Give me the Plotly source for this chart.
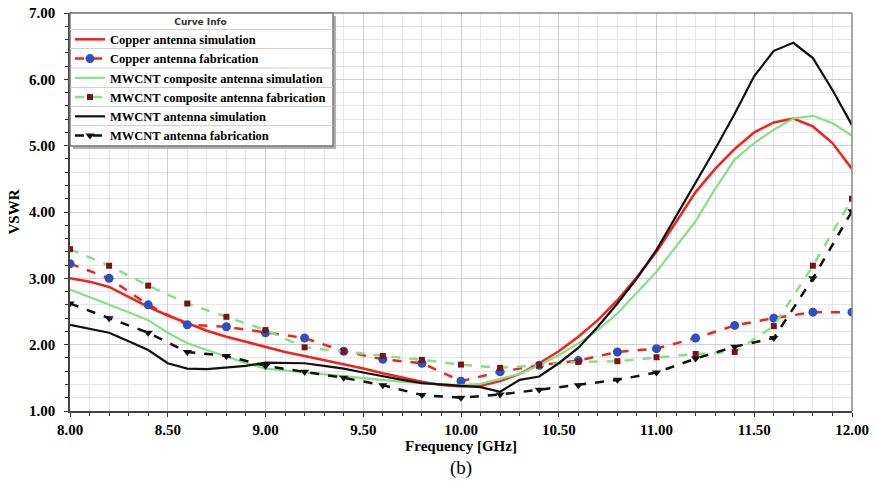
import plotly.graph_objects as go

freq_sim = [8.0, 8.1, 8.2, 8.3, 8.4, 8.5, 8.6, 8.7, 8.8, 8.9, 9.0, 9.1, 9.2, 9.3, 9.4, 9.5, 9.6, 9.7, 9.8, 9.9,
            10.0, 10.1, 10.2, 10.3, 10.4, 10.5, 10.6, 10.7, 10.8, 10.9, 11.0, 11.1, 11.2, 11.3, 11.4, 11.5,
            11.6, 11.7, 11.8, 11.9, 12.0]
freq_fab = [8.0, 8.2, 8.4, 8.6, 8.8, 9.0, 9.2, 9.4, 9.6, 9.8, 10.0, 10.2, 10.4, 10.6, 10.8, 11.0, 11.2,
            11.4, 11.6, 11.8, 12.0]

copper_sim = [3.00, 2.95, 2.87, 2.72, 2.57, 2.44, 2.32, 2.21, 2.12, 2.04, 1.97, 1.89, 1.83, 1.77, 1.71, 1.64,
              1.57, 1.50, 1.44, 1.39, 1.37, 1.38, 1.45, 1.56, 1.72, 1.90, 2.12, 2.37, 2.67, 3.02, 3.40, 3.85,
              4.30, 4.65, 4.95, 5.20, 5.35, 5.41, 5.29, 5.04, 4.65]
copper_fab = [3.22, 3.00, 2.60, 2.30, 2.27, 2.18, 2.10, 1.90, 1.78, 1.72, 1.45, 1.59, 1.69, 1.76, 1.89, 1.94,
              2.10, 2.29, 2.40, 2.49, 2.49]
composite_sim = [2.83, 2.72, 2.61, 2.49, 2.37, 2.18, 2.02, 1.92, 1.82, 1.72, 1.64, 1.61, 1.58, 1.55, 1.52,
                 1.50, 1.47, 1.44, 1.42, 1.40, 1.39, 1.41, 1.48, 1.56, 1.69, 1.84, 2.02, 2.22, 2.47, 2.78,
                 3.10, 3.48, 3.86, 4.35, 4.79, 5.04, 5.24, 5.41, 5.45, 5.34, 5.15]
composite_fab = [3.44, 3.19, 2.89, 2.62, 2.42, 2.22, 1.96, 1.90, 1.83, 1.77, 1.70, 1.65, 1.69, 1.74, 1.75,
                 1.81, 1.86, 1.89, 2.28, 3.19, 4.20]
mwcnt_sim = [2.30, 2.24, 2.18, 2.05, 1.92, 1.72, 1.64, 1.63, 1.66, 1.68, 1.73, 1.73, 1.72, 1.68, 1.64, 1.58,
             1.52, 1.47, 1.42, 1.40, 1.37, 1.36, 1.29, 1.47, 1.52, 1.72, 1.95, 2.27, 2.62, 3.00, 3.43, 3.93,
             4.45, 4.95, 5.48, 6.05, 6.43, 6.55, 6.32, 5.84, 5.31]
mwcnt_fab = [2.62, 2.40, 2.18, 1.89, 1.83, 1.68, 1.59, 1.50, 1.39, 1.24, 1.20, 1.25, 1.32, 1.39, 1.47, 1.58,
             1.79, 1.97, 2.10, 3.00, 4.01]

x_ticks = [8.0, 8.5, 9.0, 9.5, 10.0, 10.5, 11.0, 11.5, 12.0]
y_ticks = [1, 2, 3, 4, 5, 6, 7]

RED = "#f2221c"
BLUE = "#2d4fc4"
GREEN = "#86e086"
DRED = "#7d1212"
BLACK = "#111111"

fig = go.Figure()
fig.add_trace(go.Scatter(x=freq_sim, y=copper_sim, mode="lines", name="Copper antenna simulation",
                         line=dict(color=RED, width=2.5)))
fig.add_trace(go.Scatter(x=freq_fab, y=copper_fab, mode="lines+markers", name="Copper antenna fabrication",
                         line=dict(color=RED, width=2.5, dash="dash"),
                         marker=dict(color=BLUE, size=9, symbol="circle")))
fig.add_trace(go.Scatter(x=freq_sim, y=composite_sim, mode="lines", name="MWCNT composite antenna simulation",
                         line=dict(color=GREEN, width=2.2)))
fig.add_trace(go.Scatter(x=freq_fab, y=composite_fab, mode="lines+markers",
                         name="MWCNT composite antenna fabrication",
                         line=dict(color=GREEN, width=2.5, dash="dash"),
                         marker=dict(color=DRED, size=6, symbol="square")))
fig.add_trace(go.Scatter(x=freq_sim, y=mwcnt_sim, mode="lines", name="MWCNT antenna simulation",
                         line=dict(color=BLACK, width=2.2)))
fig.add_trace(go.Scatter(x=freq_fab, y=mwcnt_fab, mode="lines+markers", name="MWCNT antenna fabrication",
                         line=dict(color=BLACK, width=2.5, dash="dash"),
                         marker=dict(color=BLACK, size=8, symbol="triangle-down")))

serif = "Liberation Serif"

# legend box geometry (plot-paper units; plot is 782 x 398 px)
PW, PH = 782.0, 398.0
leg_w = 263 / PW
leg_h = 133 / PH
sep_px = [16.5, 35.5, 55, 74.5, 93.5, 112.5]

shapes = [
    dict(type="line", xref="paper", yref="paper", x0=0, x1=1, y0=1, y1=1,
         line=dict(color="#888888", width=1.5)),
    dict(type="line", xref="paper", yref="paper", x0=1, x1=1, y0=0, y1=1,
         line=dict(color="#888888", width=1.5)),
    dict(type="rect", xref="paper", yref="paper", layer="above",
         x0=3 / PW, x1=leg_w + 3 / PW, y0=1 - leg_h - 3 / PH, y1=1 - 3 / PH,
         fillcolor="#b0b0b0", line=dict(width=0)),
    dict(type="rect", xref="paper", yref="paper", layer="above",
         x0=0, x1=leg_w, y0=1 - leg_h, y1=1,
         fillcolor="white", line=dict(color="#777777", width=1.5)),
]
for d in sep_px:
    shapes.append(dict(type="line", xref="paper", yref="paper", layer="above",
                       x0=0, x1=leg_w, y0=1 - d / PH, y1=1 - d / PH,
                       line=dict(color="#d0d0d0", width=1)))

fig.update_layout(
    width=875, height=489,
    margin=dict(l=70, r=23, t=13, b=78),
    paper_bgcolor="white", plot_bgcolor="white",
    font=dict(family=serif, color="black"),
    showlegend=True,
    legend=dict(
        x=0.0, y=1.0, xanchor="left", yanchor="top",
        bgcolor="rgba(0,0,0,0)", borderwidth=0,
        font=dict(family=serif, size=12.5, color="black", weight="bold"),
        title=dict(text="Curve Info", side="top center",
                   font=dict(family="DejaVu Sans", size=9, color="#333333")),
        tracegroupgap=0, itemwidth=30,
    ),
    xaxis=dict(
        range=[8.0, 12.0], tickvals=x_ticks, tickformat=".2f", automargin=False,
        showgrid=True, gridcolor="#cfcfcf", gridwidth=1,
        minor=dict(dtick=0.1, showgrid=True, gridcolor="#e6e6e6", ticks="outside", ticklen=3,
                   tickcolor="#333333"),
        ticks="outside", ticklen=4, tickcolor="#333333",
        showline=True, linecolor="#444444", linewidth=1.5, mirror=False,
        tickfont=dict(family=serif, size=15, color="black", weight="bold"),
        title=dict(text="Frequency [GHz]", font=dict(family=serif, size=15, color="black", weight="bold"),
                   standoff=0),
        zeroline=False,
    ),
    yaxis=dict(
        range=[1.0, 7.0], tickvals=y_ticks, tickformat=".2f", automargin=False,
        showgrid=True, gridcolor="#cfcfcf", gridwidth=1,
        minor=dict(dtick=0.2, showgrid=True, gridcolor="#e6e6e6", ticks="outside", ticklen=3,
                   tickcolor="#333333"),
        ticks="outside", ticklen=4, tickcolor="#333333", ticklabelstandoff=6,
        showline=True, linecolor="#444444", linewidth=1.5, mirror=False,
        tickfont=dict(family=serif, size=15, color="black", weight="bold"),
        title=dict(text="VSWR", font=dict(family=serif, size=15, color="black", weight="bold"), standoff=6),
        zeroline=False,
    ),
    shapes=shapes,
    annotations=[
        dict(text="(b)", xref="paper", yref="paper", x=0.5, y=-0.143, xanchor="center", yanchor="middle",
             showarrow=False, font=dict(family=serif, size=19, color="black")),
    ],
)

fig.write_html("out.html", config={"displayModeBar": False},
               post_script="document.body.style.margin='0';")
